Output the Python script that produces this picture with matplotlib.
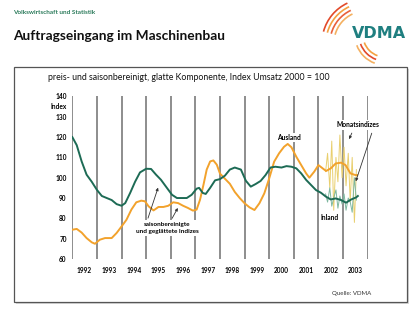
import matplotlib
matplotlib.use("Agg")
import matplotlib.pyplot as plt
from matplotlib.patches import Rectangle, Arc

plt.rcParams['font.family'] = ['Lato', 'DejaVu Sans']

# ---- data ----
inland_t = [1992.0, 1992.18, 1992.38, 1992.58, 1992.79, 1993.0, 1993.2, 1993.4, 1993.6, 1993.8,
            1994.0, 1994.15, 1994.35, 1994.55, 1994.75, 1995.0, 1995.2, 1995.4, 1995.6, 1995.8,
            1996.05, 1996.25, 1996.45, 1996.65, 1996.85, 1997.05, 1997.15, 1997.3, 1997.42, 1997.6,
            1997.8, 1998.0, 1998.2, 1998.4, 1998.6, 1998.85, 1999.05, 1999.25, 1999.45, 1999.65,
            1999.85, 2000.05, 2000.25, 2000.5, 2000.7, 2000.9, 2001.1, 2001.3, 2001.5, 2001.7,
            2001.9, 2002.1, 2002.3, 2002.5, 2002.7, 2002.92, 2003.12, 2003.33, 2003.53, 2003.6]
inland_v = [120, 116, 108, 101.5, 98, 94, 91, 90, 89, 87,
            86.2, 87.5, 92.5, 98, 102.6, 104.4, 104.3, 101.5, 99, 95.7,
            91.6, 90, 90, 90, 91.6, 94.6, 95, 92.5, 92, 95,
            98.7, 99.3, 101, 104, 105, 104, 98.5, 95.6, 96.9, 98.4,
            101.3, 105, 105.4, 105, 105.7, 105.4, 104.6, 102.1, 98.9, 96.4,
            93.9, 92.6, 90.7, 89.3, 89.8, 89, 87.7, 89.3, 90.3, 91]

ausland_t = [1992.0, 1992.18, 1992.38, 1992.58, 1992.79, 1992.92, 1993.12, 1993.33, 1993.6, 1993.8,
             1994.0, 1994.2, 1994.4, 1994.6, 1994.8, 1994.95, 1995.1, 1995.3, 1995.5, 1995.7,
             1995.9, 1996.1, 1996.3, 1996.5, 1996.7, 1996.9, 1997.05, 1997.19, 1997.33, 1997.46,
             1997.6, 1997.73, 1997.87, 1998.0, 1998.2, 1998.4, 1998.6, 1998.8, 1999.0, 1999.2,
             1999.4, 1999.6, 1999.8, 2000.0, 2000.2, 2000.4, 2000.6, 2000.75, 2000.9, 2001.1,
             2001.3, 2001.5, 2001.63, 2001.83, 2002.0, 2002.17, 2002.31, 2002.5, 2002.7, 2002.92,
             2003.1, 2003.3, 2003.5, 2003.57]
ausland_v = [74.4, 74.8, 73, 70.3, 68.2, 67.5, 69.5, 70.3, 70.3, 72.8,
             76, 79.3, 84.3, 87.9, 88.7, 88.4, 85.9, 83.9, 85.6, 85.6,
             86.2, 87.9, 87.5, 86.2, 85.1, 83.8, 84.3, 89.2, 96.6, 104,
             108, 108.5, 106.4, 102, 99.5, 97, 93, 90, 87.4, 85.4,
             84.1, 87.4, 92.3, 99.7, 107.9, 112, 115.2, 116.6, 115, 110.3,
             106.2, 102.1, 100, 103, 106.2, 104.6, 103.3, 104.6, 107, 107.4,
             106.2, 102.1, 101.3, 101.3]

month_t = [2002.29, 2002.37, 2002.46, 2002.54, 2002.62, 2002.71, 2002.79, 2002.87,
           2002.96, 2003.04, 2003.12, 2003.21, 2003.29, 2003.37, 2003.46, 2003.54]
month_ausland = [103, 112, 95, 118, 84, 110, 98, 121, 100, 115, 96, 112, 88, 110, 78, 104]
month_inland = [92, 88, 95, 86, 90, 94, 85, 91, 87, 92, 84, 90, 88, 83, 100, 89]

years = list(range(1992, 2004))
year_labels = [str(y) for y in years]
y_ticks = [60, 70, 80, 90, 100, 110, 120, 130, 140]

GREEN = '#1d6b55'
ORANGE = '#f2a22c'

fig = plt.figure(figsize=(4.2, 3.15), dpi=100)

# decoration layer in pixel coordinates
deco = fig.add_axes([0, 0, 1, 1], zorder=0)
deco.set_xlim(0, 420)
deco.set_ylim(315, 0)
deco.axis('off')
deco.add_patch(Rectangle((16, 69), 393, 235, facecolor='#d8d8d8', edgecolor='none'))
deco.add_patch(Rectangle((14, 67), 393, 235, facecolor='white', edgecolor='#555555', lw=0.9))
# logo arcs
for r, c in zip([32, 36, 40, 44], ['#f4b060', '#e8603a', '#f4a040', '#e24a2a']):
    deco.add_patch(Arc((366, 43), 2 * r, 2 * r, theta1=195, theta2=245, color=c, lw=1.2))
for r, c in zip([22, 26, 30], ['#f4a040', '#e24a2a', '#f4b060']):
    deco.add_patch(Arc((385, 35), 2 * r, 2 * r, theta1=110, theta2=160, color=c, lw=1.2))
deco.text(379, 34, 'VDMA', ha='center', va='center', fontsize=11.5, fontweight='bold',
          color='#1f7f80', family=['DejaVu Sans'])

fig.text(13 / 420, 1 - 12 / 315, 'Volkswirtschaft und Statistik', fontsize=4.6, fontweight='bold',
         color='#2a7a5a', ha='left', va='center')
fig.text(13 / 420, 1 - 36 / 315, 'Auftragseingang im Maschinenbau', fontsize=9.9, fontweight='bold',
         color='#111111', ha='left', va='center')
fig.text(48 / 420, 1 - 78 / 315, 'preis- und saisonbereinigt, glatte Komponente, Index Umsatz 2000 = 100',
         fontsize=6.3, color='#111111', ha='left', va='center')
fig.text(352 / 420, 1 - 293 / 315, 'Quelle: VDMA', fontsize=4.4, color='#333333', ha='center', va='center')

ax = fig.add_axes([72.3 / 420, 1 - 259 / 315, 295.4 / 420, 162.6 / 315], zorder=2)
ax.patch.set_alpha(0)
ax.set_xlim(1992, 2004)
ax.set_ylim(60, 140)
for s in ax.spines.values():
    s.set_visible(False)

for y in years + [2004]:
    ax.axvline(y, color='#858585', lw=1.3, zorder=1)

ax.plot(month_t, month_ausland, color='#e9cf6e', lw=0.7, zorder=2)
ax.plot(month_t, month_inland, color='#7fb8a0', lw=0.7, zorder=2)
ax.plot(ausland_t, ausland_v, color=ORANGE, lw=1.4, zorder=3)
ax.plot(inland_t, inland_v, color=GREEN, lw=1.4, zorder=4)

ax.set_yticks(y_ticks)
ax.set_yticklabels([str(v) for v in y_ticks], fontsize=4.7, fontweight='bold')
ax.set_xticks([y + 0.5 for y in years])
ax.set_xticklabels(year_labels, fontsize=4.7, fontweight='bold')
ax.tick_params(axis='both', length=0)
ax.tick_params(axis='y', pad=4)
ax.tick_params(axis='x', pad=6)
ax.text(-0.018, 135, 'Index', transform=ax.get_yaxis_transform(), ha='right', va='center',
        fontsize=4.7, fontweight='bold')

bb = dict(facecolor='white', edgecolor='none', pad=1.0)
ax.text(2000.8, 119.8, 'Ausland', ha='center', va='center', fontsize=4.8, fontweight='bold', bbox=bb, zorder=6)
ax.text(2003.6, 126, 'Monatsindizes', ha='center', va='center', fontsize=4.8, fontweight='bold', bbox=bb, zorder=6)
ax.text(2002.47, 80.2, 'Inland', ha='center', va='center', fontsize=4.8, fontweight='bold', bbox=bb, zorder=6)
ax.text(1995.85, 78.3, 'saisonbereinigte\nund geglättete Indizes', ha='center', va='top', fontsize=4.6,
        fontweight='bold', linespacing=1.6, bbox=bb, zorder=6)

ap = dict(arrowstyle='-|>', color='#333333', lw=0.6, mutation_scale=4)
ax.annotate('', xy=(1995.52, 96.4), xytext=(1995.04, 78.8), arrowprops=ap, zorder=7)
ax.annotate('', xy=(1996.34, 86.3), xytext=(1996.0, 78.8), arrowprops=ap, zorder=7)
ax.annotate('', xy=(2003.2, 117.7), xytext=(2003.4, 123.2), arrowprops=ap, zorder=7)
ax.annotate('', xy=(2003.48, 96.9), xytext=(2004.2, 123.2), arrowprops=ap, zorder=7, annotation_clip=False)

fig.savefig('out.png', dpi=100)
